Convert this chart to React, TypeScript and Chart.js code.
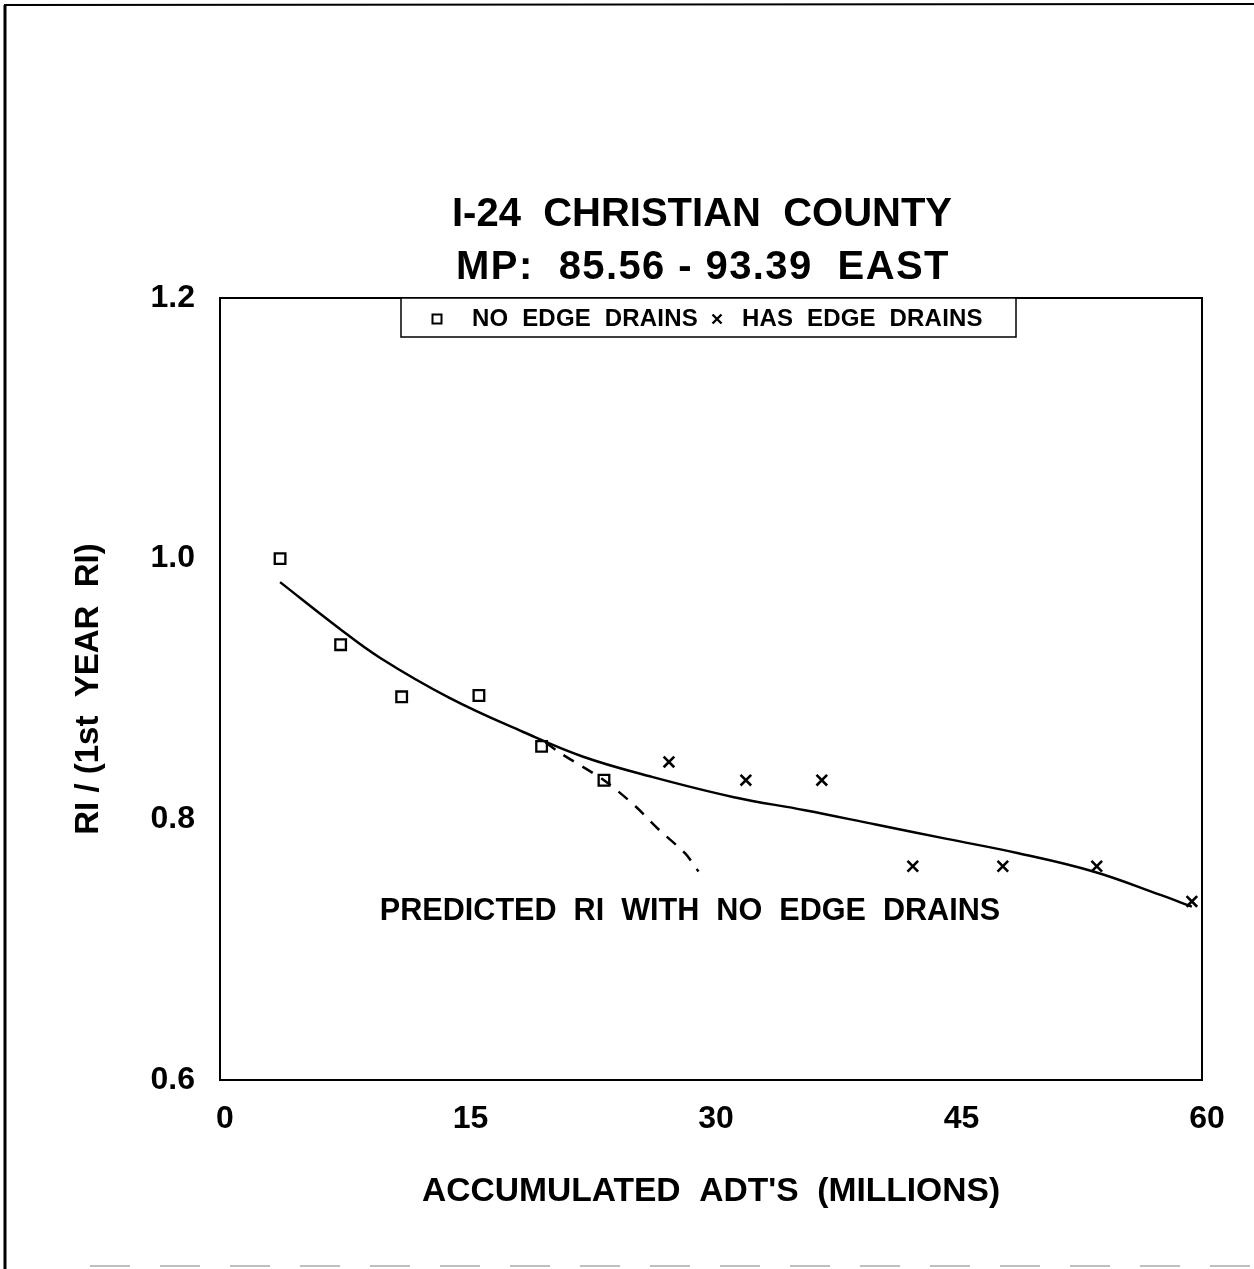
import React, { useEffect, useRef } from "react";
import { Chart, registerables } from "chart.js";

Chart.register(...registerables);

// ---------- data ----------
const titleLines = ["I-24  CHRISTIAN  COUNTY", "MP:  85.56 - 93.39  EAST"];
const xAxisTitle = "ACCUMULATED  ADT'S  (MILLIONS)";
const yAxisTitle = "RI / (1st  YEAR  RI)";
const xTicks = [0, 15, 30, 45, 60];
const yTicks = [0.6, 0.8, 1.0, 1.2];
const legendLabels = ["NO  EDGE  DRAINS", "HAS  EDGE  DRAINS"];
const annotationText = "PREDICTED  RI  WITH  NO  EDGE  DRAINS";

const noDrainX = [3.67, 7.37, 11.1, 15.82, 19.65, 23.46];
const noDrainY = [1.0, 0.934, 0.894, 0.895, 0.856, 0.83];

const hasDrainX = [27.43, 32.13, 36.77, 42.33, 47.83, 53.57, 59.38];
const hasDrainY = [0.844, 0.83, 0.83, 0.764, 0.764, 0.764, 0.737];

const fitX = [3.67, 7.13, 9.77, 14.05, 18.53, 22.19, 26.27, 31.4, 35.74, 40.07, 44.41, 48.78, 53.36, 57.46, 59.38];
const fitY = [0.982, 0.948, 0.924, 0.893, 0.867, 0.848, 0.833, 0.817, 0.807, 0.796, 0.785, 0.774, 0.76, 0.742, 0.733];

const predX = [19.9, 20.77, 23.46, 25.38, 26.82, 28.41, 29.24];
const predY = [0.859, 0.851, 0.83, 0.81, 0.792, 0.774, 0.76];

const FONT = "'Liberation Sans', Arial, Helvetica, sans-serif";

const toPts = (xs: number[], ys: number[]) => xs.map((x, i) => ({ x, y: ys[i] }));

const decorPlugin = {
  id: "decor",
  beforeDraw(chart: any) {
    const { ctx, width, height } = chart;
    ctx.save();
    ctx.fillStyle = "#fff";
    ctx.fillRect(0, 0, width, height);
    // page border (scanned sheet)
    ctx.strokeStyle = "#000";
    ctx.lineWidth = 3;
    ctx.beginPath();
    ctx.moveTo(5, height);
    ctx.lineTo(5, 5);
    ctx.stroke();
    ctx.lineWidth = 2;
    ctx.beginPath();
    ctx.moveTo(4, 5);
    ctx.lineTo(width, 4);
    ctx.stroke();
    ctx.strokeStyle = "#aaa";
    ctx.lineWidth = 1.5;
    ctx.setLineDash([40, 30]);
    ctx.beginPath();
    ctx.moveTo(90, height - 3);
    ctx.lineTo(width, height - 3);
    ctx.stroke();
    ctx.restore();
  },
  afterDraw(chart: any) {
    const { ctx, chartArea } = chart;
    const { left, top, right, bottom } = chartArea;
    ctx.save();
    // plot frame
    ctx.strokeStyle = "#000";
    ctx.lineWidth = 2;
    ctx.strokeRect(left, top, right - left, bottom - top);

    // title
    ctx.fillStyle = "#000";
    ctx.textAlign = "center";
    ctx.textBaseline = "middle";
    ctx.font = `bold 40px ${FONT}`;
    ctx.fillText(titleLines[0], 702, 215);
    (ctx as any).letterSpacing = "1.4px";
    ctx.fillText(titleLines[1], 703, 268);
    (ctx as any).letterSpacing = "0px";

    // legend box
    const lx0 = left + 181, lx1 = left + 796, ly0 = top, ly1 = top + 39;
    ctx.fillStyle = "#fff";
    ctx.fillRect(lx0, ly0, lx1 - lx0, ly1 - ly0);
    ctx.lineWidth = 1.5;
    ctx.strokeRect(lx0, ly0, lx1 - lx0, ly1 - ly0);
    const ly = top + 21;
    ctx.lineWidth = 2;
    ctx.strokeRect(left + 217 - 4.5, ly - 4.5, 9, 9);
    ctx.lineWidth = 2.4;
    ctx.beginPath();
    const cx = left + 497;
    ctx.moveTo(cx - 4.5, ly - 4.5);
    ctx.lineTo(cx + 4.5, ly + 4.5);
    ctx.moveTo(cx + 4.5, ly - 4.5);
    ctx.lineTo(cx - 4.5, ly + 4.5);
    ctx.stroke();
    ctx.fillStyle = "#000";
    ctx.textAlign = "left";
    ctx.font = `bold 24px ${FONT}`;
    (ctx as any).letterSpacing = "0.2px";
    ctx.fillText(legendLabels[0], left + 252, ly);
    ctx.fillText(legendLabels[1], left + 522, ly);
    (ctx as any).letterSpacing = "0px";

    // annotation
    ctx.textAlign = "center";
    ctx.font = `bold 30.6px ${FONT}`;
    ctx.fillText(annotationText, 690, 912);
    ctx.restore();
  },
};

export default function App() {
  const canvasRef = useRef<HTMLCanvasElement | null>(null);

  useEffect(() => {
    if (!canvasRef.current) return;
    const chart = new Chart(canvasRef.current, {
      type: "scatter",
      data: {
        datasets: [
          {
            label: "Fit",
            data: toPts(fitX, fitY),
            showLine: true,
            borderColor: "#000",
            borderWidth: 2.5,
            pointRadius: 0,
            tension: 0.4,
            fill: false,
          },
          {
            label: "Predicted RI with no edge drains",
            data: toPts(predX, predY),
            showLine: true,
            borderColor: "#000",
            borderWidth: 2.5,
            borderDash: [12, 10],
            pointRadius: 0,
            tension: 0.3,
            fill: false,
          },
          {
            label: legendLabels[0],
            data: toPts(noDrainX, noDrainY),
            showLine: false,
            pointStyle: "rect",
            pointRadius: 7.5,
            borderColor: "#000",
            backgroundColor: "rgba(0,0,0,0)",
            borderWidth: 2.3,
          },
          {
            label: legendLabels[1],
            data: toPts(hasDrainX, hasDrainY),
            showLine: false,
            pointStyle: "crossRot",
            pointRadius: 7.5,
            borderColor: "#000",
            backgroundColor: "#000",
            borderWidth: 2.6,
          },
        ],
      },
      options: {
        animation: false,
        responsive: true,
        maintainAspectRatio: false,
        layout: { padding: { left: 0, right: 52, top: 298, bottom: 0 } },
        plugins: {
          legend: { display: false },
          tooltip: { enabled: false },
          title: { display: false },
        },
        scales: {
          x: {
            type: "linear",
            min: 0,
            max: 60,
            afterBuildTicks: (s: any) => {
              s.ticks = xTicks.map((v) => ({ value: v }));
            },
            afterFit: (s: any) => {
              s.height = 189;
            },
            grid: { display: false, drawTicks: false },
            border: { display: false },
            ticks: {
              color: "#000",
              font: { family: FONT, size: 32, weight: "bold" },
              padding: 20,
              labelOffset: 5,
              maxRotation: 0,
              autoSkip: false,
            },
            title: {
              display: true,
              text: xAxisTitle,
              color: "#000",
              font: { family: FONT, size: 33.6, weight: "bold" },
              padding: { top: 0, bottom: 57 },
            },
          },
          y: {
            type: "linear",
            min: 0.6,
            max: 1.2,
            afterBuildTicks: (s: any) => {
              s.ticks = yTicks.map((v) => ({ value: v }));
            },
            afterFit: (s: any) => {
              s.width = 220;
            },
            grid: { display: false, drawTicks: false },
            border: { display: false },
            ticks: {
              color: "#000",
              font: { family: FONT, size: 32, weight: "bold" },
              padding: 25,
              autoSkip: false,
              callback: (v: any) => Number(v).toFixed(1),
            },
            title: {
              display: true,
              text: yAxisTitle,
              color: "#000",
              font: { family: FONT, size: 33, weight: "bold" },
              padding: { top: 69, bottom: 0 },
            },
          },
        },
      },
      plugins: [decorPlugin],
    } as any);
    return () => chart.destroy();
  }, []);

  return (
    <div
      style={{
        position: "fixed",
        left: 0,
        top: 0,
        width: 1254,
        height: 1269,
        background: "#fff",
      }}
    >
      <canvas ref={canvasRef} />
    </div>
  );
}
